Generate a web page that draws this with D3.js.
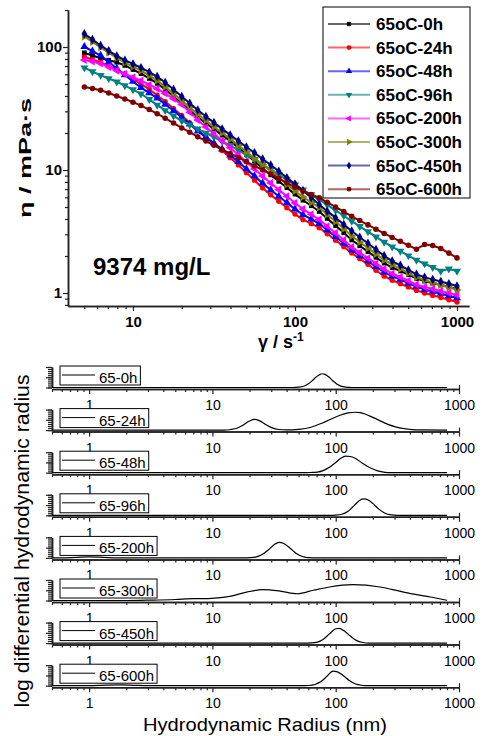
<!DOCTYPE html>
<html>
<head>
<meta charset="utf-8">
<script src="https://cdn.jsdelivr.net/npm/d3@7"></script>
<style>
  body { margin: 0; background: #fff; }
  svg { display: block; }
  text { font-family: "Liberation Sans", Arial, sans-serif; }
</style>
</head>
<body>
<div id="chart-area"></div>
<script>
// ---- viscosity curves (top) ----
const shearRates = [5.01, 5.62, 6.31, 7.08, 7.94, 8.91, 10, 11.2, 12.6, 14.1, 15.8, 17.8, 20, 22.4, 25.1, 28.2,
    31.6, 35.5, 39.8, 44.7, 50.1, 56.2, 63.1, 70.8, 79.4, 89.1, 100, 112, 126, 141, 158, 178, 200, 224, 251, 282,
    316, 355, 398, 447, 501, 562, 631, 708, 794, 891, 1000];

const seriesNames = ["65oC-0h", "65oC-24h", "65oC-48h", "65oC-96h", "65oC-200h", "65oC-300h", "65oC-450h", "65oC-600h"];

const eta0h = [89.7, 85.3, 81.1, 78.1, 75.2, 70.8, 65.6, 60.7, 55.5, 50.6, 45.1, 39.6, 34.8, 30.6, 26.9, 24.0, 21.5,
    19.2, 17.2, 15.2, 13.4, 11.8, 10.3, 9.12, 8.09, 7.18, 6.37, 5.68, 5.12, 4.60, 4.04, 3.53, 3.09, 2.70, 2.42, 2.17,
    1.95, 1.75, 1.61, 1.51, 1.41, 1.31, 1.25, 1.20, 1.16, 1.12, 1.08];
const eta24h = [83.2, 79.1, 75.1, 70.2, 65.5, 60.4, 55.1, 50.2, 45.2, 40.6, 36.0, 31.6, 27.8, 24.2, 21.1, 18.5, 16.3,
    14.4, 12.6, 11.0, 9.52, 8.26, 7.15, 6.28, 5.57, 4.94, 4.38, 3.95, 3.66, 3.40, 3.03, 2.69, 2.38, 2.11, 1.90, 1.71,
    1.53, 1.37, 1.27, 1.19, 1.12, 1.05, 1.00, 0.956, 0.918, 0.881, 0.845];
const eta48h = [100.5, 92.7, 85.3, 75.5, 67.0, 59.3, 52.5, 46.7, 42.3, 38.4, 34.2, 30.3, 26.8, 23.6, 20.7, 18.5, 16.5,
    14.8, 13.2, 11.7, 10.2, 8.94, 7.82, 6.89, 6.11, 5.42, 4.81, 4.33, 3.98, 3.66, 3.25, 2.87, 2.54, 2.24, 2.01, 1.82,
    1.64, 1.48, 1.37, 1.29, 1.20, 1.13, 1.07, 1.03, 0.99, 0.95, 0.91];
const eta96h = [67.9, 63.2, 59.0, 55.5, 52.2, 48.6, 45.1, 41.7, 37.5, 33.7, 30.5, 27.6, 25.1, 23.3, 21.6, 20.0, 18.5,
    17.1, 15.8, 14.5, 13.3, 12.2, 11.1, 10.1, 9.19, 8.34, 7.58, 6.89, 6.30, 5.75, 5.20, 4.70, 4.25, 3.84, 3.48, 3.16,
    2.86, 2.59, 2.37, 2.19, 2.01, 1.85, 1.73, 1.62, 1.51, 1.57, 1.51];
const eta200h = [78.5, 76.2, 73.6, 68.9, 64.3, 60.3, 56.8, 53.3, 49.4, 45.8, 41.9, 37.9, 34.1, 29.5, 25.5, 22.4, 19.7,
    17.3, 15.2, 13.3, 11.7, 10.2, 8.92, 7.84, 6.92, 6.11, 5.40, 4.82, 4.36, 3.96, 3.49, 3.07, 2.70, 2.37, 2.13, 1.92,
    1.74, 1.57, 1.44, 1.35, 1.26, 1.17, 1.12, 1.08, 1.04, 1.00, 0.963];
const eta300h = [122, 110, 99.3, 89.9, 81.5, 74.8, 69.4, 64.2, 58.6, 53.5, 47.6, 41.9, 36.8, 32.4, 28.5, 25.3, 22.5,
    20.1, 17.9, 15.9, 14.1, 12.5, 11.1, 9.82, 8.66, 7.65, 6.76, 6.03, 5.46, 4.96, 4.35, 3.81, 3.33, 2.91, 2.60, 2.32,
    2.08, 1.86, 1.70, 1.57, 1.45, 1.34, 1.27, 1.21, 1.16, 1.11, 1.06];
const eta450h = [128, 115, 103, 93.3, 84.7, 78.1, 72.9, 68.0, 62.5, 57.5, 51.4, 45.1, 39.6, 34.9, 30.7, 27.2, 24.3,
    21.6, 19.3, 17.2, 15.4, 13.8, 12.3, 11.0, 9.76, 8.65, 7.68, 6.80, 5.98, 5.25, 4.63, 4.10, 3.61, 3.19, 2.84, 2.54,
    2.26, 2.01, 1.82, 1.68, 1.54, 1.42, 1.34, 1.29, 1.24, 1.19, 1.14];
const eta600h = [47.4, 46.0, 44.6, 42.3, 40.0, 37.8, 35.6, 33.4, 31.0, 28.7, 26.4, 24.1, 22.0, 20.3, 18.6, 17.2, 15.9,
    14.7, 13.6, 12.6, 11.7, 10.8, 10.0, 9.28, 8.55, 7.87, 7.23, 6.73, 6.32, 5.96, 5.46, 5.01, 4.59, 4.20, 3.88, 3.58,
    3.30, 3.05, 2.83, 2.63, 2.44, 2.27, 2.48, 2.43, 2.30, 2.11, 1.93];

const etaTicksMajor = [1, 10, 100];
const etaTicksMinor = [0.8, 0.9, 2, 3, 4, 5, 6, 7, 8, 9, 20, 30, 40, 50, 60, 70, 80, 90, 200];
const rateTicksMajor = [10, 100, 1000];
const rateTicksMinor = [5, 6, 7, 8, 9, 20, 30, 40, 50, 60, 70, 80, 90, 200, 300, 400, 500, 600, 700, 800, 900];

// ---- DLS size distributions (bottom), [radius nm, relative height] ----
const panelNames = ["65-0h", "65-24h", "65-48h", "65-96h", "65-200h", "65-300h", "65-450h", "65-600h"];
const dls0h = [[0.5, 0], [45, 0], [50, 0.015], [55, 0.06], [60, 0.18], [65, 0.35], [70, 0.53], [75, 0.64], [78, 0.67],
    [82, 0.64], [88, 0.51], [95, 0.32], [102, 0.17], [110, 0.07], [120, 0.02], [135, 0], [800, 0]];
const dls24h = [[0.5, 0], [12.5, 0], [14.1, 0.03], [15.8, 0.09], [17.8, 0.25], [20, 0.44], [21.9, 0.52], [24, 0.46],
    [26.9, 0.28], [30.2, 0.12], [34.7, 0.03], [40, 0.01], [50, 0.04], [63, 0.14], [79, 0.36], [100, 0.64],
    [126, 0.84], [145, 0.87], [158, 0.85], [200, 0.62], [251, 0.34], [316, 0.13], [398, 0.04], [500, 0.01], [800, 0]];
const dls48h = [[0.5, 0], [55, 0], [63, 0.01], [71, 0.03], [79, 0.1], [89, 0.26], [100, 0.5], [110, 0.7], [120, 0.81],
    [132, 0.79], [148, 0.66], [166, 0.45], [190, 0.24], [219, 0.09], [251, 0.02], [282, 0], [800, 0]];
const dls96h = [[0.5, 0], [90, 0], [100, 0.01], [112, 0.05], [126, 0.2], [141, 0.47], [158, 0.75], [170, 0.8],
    [182, 0.76], [200, 0.58], [224, 0.3], [251, 0.1], [282, 0.02], [316, 0], [800, 0]];
const dls200h = [[0.5, 0], [0.6, 0], [0.8, 0.03], [1.0, 0.05], [1.3, 0.03], [1.7, 0], [18, 0], [20, 0.01],
    [22.4, 0.04], [25.1, 0.15], [28.2, 0.37], [31.6, 0.64], [34.7, 0.76], [38, 0.7], [42.7, 0.47], [47.9, 0.22],
    [53.7, 0.07], [60, 0.01], [70, 0], [800, 0]];
const dls300h = [[0.5, 0], [2, 0], [3.2, 0.02], [5, 0.05], [7.1, 0.09], [8.9, 0.09], [11.2, 0.13], [13.8, 0.2],
    [19, 0.41], [25.7, 0.53], [35.5, 0.46], [49, 0.33], [66, 0.5], [89, 0.66], [138, 0.77], [229, 0.66],
    [355, 0.41], [589, 0.17], [800, 0.01]];
const dls450h = [[0.5, 0], [56, 0], [63, 0.01], [71, 0.05], [79, 0.18], [89, 0.45], [100, 0.7], [107, 0.72],
    [117, 0.6], [132, 0.33], [148, 0.12], [166, 0.03], [186, 0], [800, 0]];
const dls600h = [[0.5, 0], [1.0, 0], [1.4, 0.03], [1.8, 0.04], [2.3, 0.02], [3, 0], [54, 0], [60, 0.01], [68, 0.06],
    [76, 0.2], [85, 0.46], [95, 0.71], [102, 0.69], [115, 0.5], [129, 0.25], [145, 0.08], [162, 0.02], [182, 0],
    [800, 0]];

const radiusTicksMajor = [1, 10, 100, 1000];
const radiusTicksMinor = [0.5, 0.6, 0.7, 0.8, 0.9, 2, 3, 4, 5, 6, 7, 8, 9, 20, 30, 40, 50, 60, 70, 80, 90,
    200, 300, 400, 500, 600, 700, 800, 900];
const levelTicksMinor = [0, 0.1, 0.2, 0.3, 0.4, 0.5, 0.6, 0.7, 0.8, 0.9, 1];
const levelTicksMajor = [0, 0.5, 1];

const colors = ["#000000", "#ff0000", "#0000ff", "#008080", "#ff00ff", "#808000", "#000080", "#800000"];
const symbols = [
    { type: d3.symbolSquare, rot: 0, size: 22 },
    { type: d3.symbolCircle, rot: 0, size: 22 },
    { type: d3.symbolTriangle, rot: 0, size: 28 },
    { type: d3.symbolTriangle, rot: 180, size: 28 },
    { type: d3.symbolTriangle, rot: -90, size: 28 },
    { type: d3.symbolTriangle, rot: 90, size: 28 },
    { type: d3.symbolDiamond, rot: 0, size: 26 },
    { type: d3.symbolCircle, rot: 0, size: 24 }
];

const svg = d3.select("#chart-area").append("svg")
    .attr("width", 483)
    .attr("height", 736);

// ================= top chart =================
const x = d3.scaleLog().domain([3.97, 1186]).range([68, 469]);
const y = d3.scaleLog().domain([0.784, 200]).range([306, 10]);

const topChart = svg.append("g");

function styleAxis(g, bold, size) {
    g.select(".domain").attr("stroke", "#222").attr("stroke-width", 1.5);
    g.selectAll(".tick line").attr("stroke", "#222").attr("stroke-width", 1.2);
    g.selectAll("text")
        .attr("font-family", "Liberation Sans, Arial, sans-serif")
        .attr("font-size", size)
        .attr("font-weight", bold ? "bold" : "normal")
        .attr("fill", "#000");
}

topChart.append("g").attr("transform", "translate(0,306)")
    .call(d3.axisBottom(x).tickValues(rateTicksMinor).tickSize(3).tickSizeOuter(0).tickFormat(""))
    .call(g => styleAxis(g, true, 15));
topChart.append("g").attr("transform", "translate(0,306)")
    .call(d3.axisBottom(x).tickValues(rateTicksMajor).tickSize(5).tickSizeOuter(0).tickPadding(5).tickFormat(d3.format("d")))
    .call(g => styleAxis(g, true, 15));
topChart.append("g").attr("transform", "translate(68,0)")
    .call(d3.axisLeft(y).tickValues(etaTicksMinor).tickSize(3).tickSizeOuter(0).tickFormat(""))
    .call(g => styleAxis(g, true, 15));
topChart.append("g").attr("transform", "translate(68,0)")
    .call(d3.axisLeft(y).tickValues(etaTicksMajor).tickSize(5).tickSizeOuter(0).tickPadding(1).tickFormat(d3.format("d")))
    .call(g => styleAxis(g, true, 15));

const etaSeries = [eta0h, eta24h, eta48h, eta96h, eta200h, eta300h, eta450h, eta600h];
const line = d3.line().x(d => x(d[0])).y(d => y(d[1]));

etaSeries.forEach(function (vals, i) {
    const pts = shearRates.map((g, j) => [g, vals[j]]);
    const sg = topChart.append("g");
    sg.append("path").datum(pts)
        .attr("d", line)
        .attr("fill", "none")
        .attr("stroke", colors[i])
        .attr("stroke-width", 2);
    sg.selectAll("path.m").data(pts).enter().append("path")
        .attr("class", "m")
        .attr("transform", d => `translate(${x(d[0])},${y(d[1])}) rotate(${symbols[i].rot})`)
        .attr("d", d3.symbol(symbols[i].type, symbols[i].size))
        .attr("fill", colors[i]);
});

// legend
const leg = topChart.append("g");
leg.append("rect").attr("x", 323).attr("y", 7).attr("width", 147).attr("height", 191)
    .attr("fill", "#fff").attr("stroke", "#000").attr("stroke-width", 1);
seriesNames.forEach(function (name, i) {
    const ly = 24 + i * 23.6;
    leg.append("line").attr("x1", 328).attr("x2", 370).attr("y1", ly).attr("y2", ly)
        .attr("stroke", colors[i]).attr("stroke-width", 2).attr("stroke-opacity", 0.6);
    leg.append("path")
        .attr("transform", `translate(349,${ly}) rotate(${symbols[i].rot})`)
        .attr("d", d3.symbol(symbols[i].type, 18))
        .attr("fill", colors[i]);
    leg.append("text").attr("x", 376).attr("y", ly + 6)
        .attr("font-size", 17).attr("font-weight", "bold").text(name);
});

topChart.append("text").attr("x", 93).attr("y", 275)
    .attr("font-size", 24).attr("font-weight", "bold").text("9374 mg/L");

topChart.append("text")
    .attr("transform", "translate(31,158) rotate(-90)")
    .attr("text-anchor", "middle")
    .attr("font-size", 17).attr("font-weight", "bold")
    .attr("textLength", 120).attr("lengthAdjust", "spacingAndGlyphs")
    .text("η / mPa·s");

const xl = topChart.append("text").attr("x", 258).attr("y", 348)
    .attr("font-size", 18).attr("font-weight", "bold");
xl.append("tspan").text("γ / s");
xl.append("tspan").attr("dy", -7).attr("font-size", 12).text("-1");

// ================= bottom panels =================
const rx = d3.scaleLog().domain([0.5, 1000]).range([52, 459]);
const dlsSeries = [dls0h, dls24h, dls48h, dls96h, dls200h, dls300h, dls450h, dls600h];

dlsSeries.forEach(function (pts, i) {
    const base = 389 + i * 42.6;
    const py = d3.scaleLinear().domain([0, 1]).range([base - 1.5, base - 22]);
    const pg = svg.append("g");

    pg.append("g").attr("transform", `translate(0,${base})`)
        .call(d3.axisBottom(rx).tickValues(radiusTicksMinor).tickSize(3).tickSizeOuter(0).tickFormat(""))
        .call(g => styleAxis(g, false, 14));
    pg.append("g").attr("transform", `translate(0,${base})`)
        .call(d3.axisBottom(rx).tickValues(radiusTicksMajor).tickSize(5).tickSizeOuter(0).tickPadding(6).tickFormat(d3.format("d")))
        .call(g => styleAxis(g, false, 14));
    pg.append("g").attr("transform", `translate(0,${base})`)
        .call(d3.axisTop(rx).tickValues([1000]).tickSize(4).tickSizeOuter(0).tickFormat(""))
        .call(g => { styleAxis(g, false, 14); g.select(".domain").remove(); });
    pg.append("g").attr("transform", "translate(52,0)")
        .call(d3.axisLeft(py).tickValues(levelTicksMinor).tickSize(4).tickSizeOuter(0).tickFormat(""))
        .call(g => styleAxis(g, false, 14));
    pg.append("g").attr("transform", "translate(52,0)")
        .call(d3.axisLeft(py).tickValues(levelTicksMajor).tickSize(6).tickSizeOuter(0).tickFormat(""))
        .call(g => styleAxis(g, false, 14));

    pg.append("path").datum(pts)
        .attr("d", d3.line().curve(d3.curveMonotoneX).x(d => rx(d[0])).y(d => py(d[1])))
        .attr("fill", "none")
        .attr("stroke", "#000")
        .attr("stroke-width", 1.2);

    // legend box
    const box = pg.append("rect").attr("x", 60).attr("y", base - 23).attr("height", 19)
        .attr("fill", "#fff").attr("stroke", "#000").attr("stroke-width", 1);
    pg.append("line").attr("x1", 62).attr("x2", 95).attr("y1", base - 14).attr("y2", base - 14)
        .attr("stroke", "#000").attr("stroke-width", 1);
    const t = pg.append("text").attr("x", 99).attr("y", base - 6)
        .attr("font-size", 15).text(panelNames[i]);
    box.attr("width", t.node().getComputedTextLength() + 42);
});

svg.append("text")
    .attr("transform", "translate(29,541) rotate(-90)")
    .attr("text-anchor", "middle")
    .attr("font-size", 20)
    .attr("textLength", 333).attr("lengthAdjust", "spacingAndGlyphs")
    .text("log differential hydrodynamic radius");

svg.append("text").attr("x", 265).attr("y", 731)
    .attr("text-anchor", "middle")
    .attr("font-size", 19)
    .attr("textLength", 244).attr("lengthAdjust", "spacingAndGlyphs")
    .text("Hydrodynamic Radius (nm)");
</script>
</body>
</html>
